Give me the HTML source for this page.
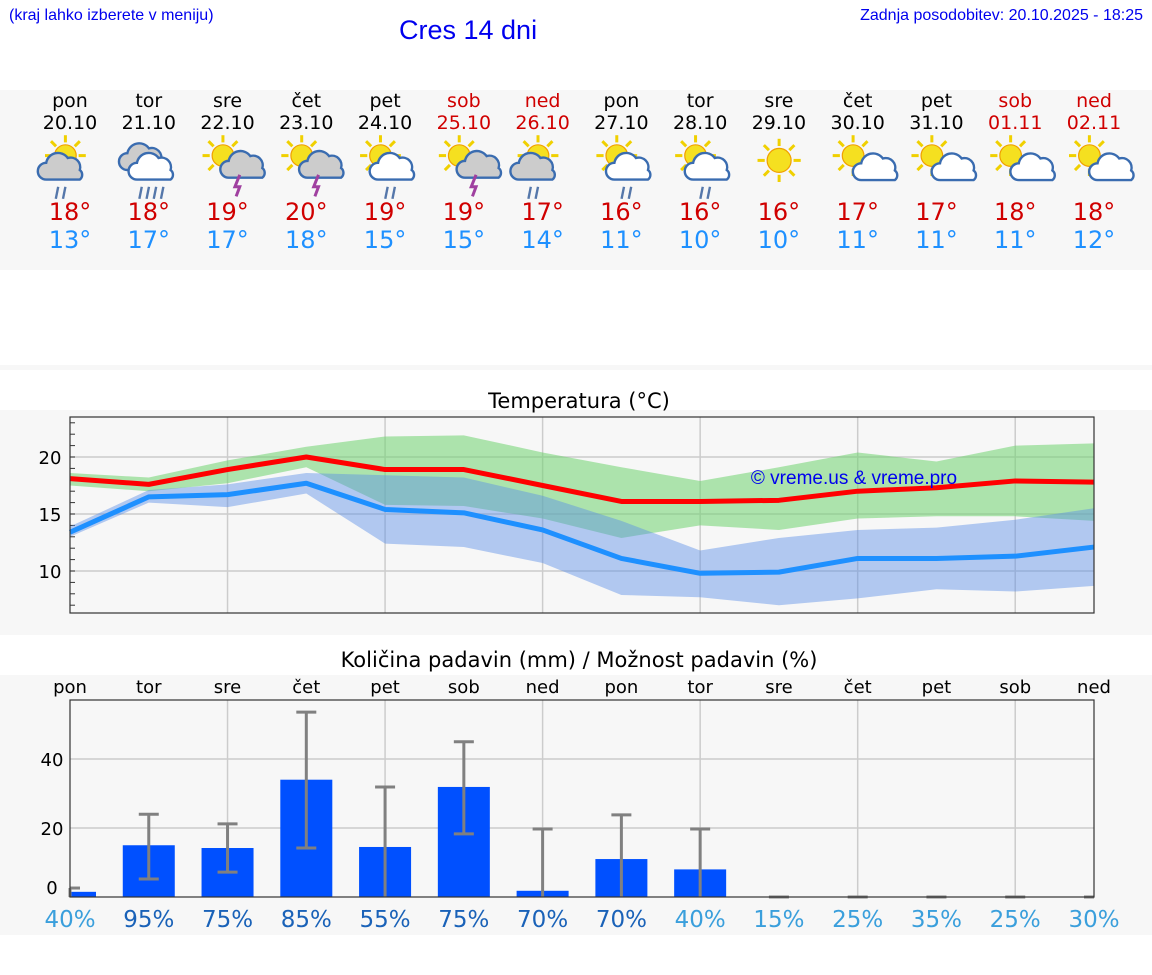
<!DOCTYPE html>
<html><head><meta charset="utf-8">
<style>
body{margin:0;width:1152px;height:975px;background:#fff;position:relative;overflow:hidden;font-family:"DejaVu Sans","Liberation Sans",sans-serif}
.hdr{position:absolute;font-family:"Liberation Sans",sans-serif;color:#0000ee}
.band{position:absolute;left:0;width:1152px;background:#f7f7f7}
</style></head><body>
<div class="hdr" style="left:9px;top:7px;font-size:16px">(kraj lahko izberete v meniju)</div>
<div class="hdr" style="left:399px;top:15px;font-size:27px">Cres 14 dni</div>
<div class="hdr" style="right:9px;top:7px;font-size:16px">Zadnja posodobitev: 20.10.2025 - 18:25</div>
<div class="band" style="top:90px;height:180px"></div>
<div class="band" style="top:365px;height:5px"></div>
<div class="band" style="top:410px;height:225px"></div>
<div class="band" style="top:675px;height:260px"></div>
<svg id="s" width="1152" height="975" style="position:absolute;left:0;top:0"></svg>
<script>
const days=["pon","tor","sre","čet","pet","sob","ned","pon","tor","sre","čet","pet","sob","ned"];
const dates=["20.10","21.10","22.10","23.10","24.10","25.10","26.10","27.10","28.10","29.10","30.10","31.10","01.11","02.11"];
const icons=["scr","cr","st","st","swr","st","scr","swr","swr","s","sc","sc","sc","sc"];
const maxT=[18,18,19,20,19,19,17,16,16,16,17,17,18,18];
const minT=[13,17,17,18,15,15,14,11,10,10,11,11,11,12];
const redLine=[18.1,17.6,18.9,20.0,18.9,18.9,17.5,16.1,16.1,16.2,17.0,17.3,17.9,17.8];
const blueLine=[13.4,16.5,16.7,17.7,15.4,15.1,13.6,11.1,9.8,9.9,11.1,11.1,11.3,12.1];
const greenTop=[18.6,18.2,19.7,20.9,21.8,21.9,20.4,19.1,17.9,19.1,20.4,19.6,21.0,21.2];
const greenBot=[17.5,17.0,17.7,19.1,15.8,15.7,14.6,12.9,14.0,13.6,14.6,14.8,14.8,14.4];
const blueTop=[13.9,17.1,17.6,18.6,18.4,18.2,16.6,14.4,11.8,12.9,13.6,13.8,14.5,15.5];
const blueBot=[13.0,16.0,15.6,16.8,12.4,12.1,10.7,7.9,7.7,7.0,7.6,8.4,8.2,8.7];
const tempTicks=[10,15,20];
const precip=[1.5,15,14.2,34,14.5,31.9,1.8,11,8,0,0,0,0,0];
const errHi=[2.6,24,21.2,53.6,31.9,45,19.7,23.8,19.7,0,0,0,0,0];
const errLo=[0,5.2,7.2,14.2,0,18.3,0,0,0,0,0,0,0,0];
const chance=[40,95,75,85,55,75,70,70,40,15,25,35,25,30];
const precipTicks=[0,20,40];

const S=document.getElementById('s');const NS="http://www.w3.org/2000/svg";
function el(t,a,p){const e=document.createElementNS(NS,t);for(const k in a)e.setAttribute(k,a[k]);(p||S).appendChild(e);return e;}
function txt(x,y,s,a){const e=el('text',Object.assign({x:x,y:y,'text-anchor':'middle'},a));e.textContent=s;return e;}
const X=i=>70+i*1024/13;
for(let i=0;i<14;i++){
 const we=(days[i]=="sob"||days[i]=="ned");const c=X(i);
 let t=txt(c,107,days[i],{'font-size':19,fill:we?'#d00000':'#000'});
 
 t=txt(c,129,dates[i],{'font-size':19,fill:we?'#d00000':'#000'});
 
 t=txt(c,220,maxT[i]+"°",{'font-size':24,fill:'#d00000'});
 
 t=txt(c,248,minT[i]+"°",{'font-size':24,fill:'#1e90ff'});
 
 const g=el('g',{transform:`translate(${c-31},134) scale(1.2)`});
 
 const k=icons[i];
 const sun=(cx,cy,r)=>{for(let a=0;a<8;a++){const an=a*Math.PI/4;el('line',{x1:cx+Math.cos(an)*(r+2),y1:cy+Math.sin(an)*(r+2),x2:cx+Math.cos(an)*(r+8),y2:cy+Math.sin(an)*(r+8),stroke:'#f0d000','stroke-width':2.5},g);}el('circle',{cx:cx,cy:cy,r:r,fill:'#f5e020',stroke:'#f0a000','stroke-width':1},g);};
 const cloud=(cx,cy,sc,f)=>{el('path',{d:`M${cx-14*sc},${cy+8*sc} a7,7 0 0 1 0,-14 a10,10 0 0 1 18,-4 a8,8 0 0 1 10,10 a5,5 0 0 1 0,8 z`,fill:f,stroke:'#3a6cb0','stroke-width':2},g);};
 if(k=="cr"){cloud(22,22,1,'#ccc');cloud(30,30,1,'#fff');for(let j=0;j<4;j++)el('line',{x1:20+j*6,y1:44,x2:18+j*6,y2:54,stroke:'#5577aa','stroke-width':2},g);}
 else{
  if(k=="s")sun(26,22,10);else sun(22,18,9);
  if(k=="scr"){cloud(20,30,1,'#ccc');}
  if(k=="swr"){cloud(34,30,1,'#fff');}
  if(k=="scr"||k=="swr"){const bx=k=="scr"?16:28;for(let j=0;j<2;j++)el('line',{x1:bx+j*6,y1:44,x2:bx-2+j*6,y2:54,stroke:'#5577aa','stroke-width':2},g);}
  if(k=="st"){cloud(38,30,0.8,'#ccc');el('path',{d:'M36,34 l-4,10 h4 l-3,8',stroke:'#a040a0','stroke-width':2.5,fill:'none'},g);}
  if(k=="sc"){cloud(40,32,0.8,'#fff');}
 }
}
const T0=417,T1=613,Ty=v=>457-(v-20)*11.4;
let t=txt(579,408,"Temperatura (°C)",{'font-size':21,fill:'#000'});

for(let i=2;i<13;i+=2){const l=el('line',{x1:X(i),x2:X(i),y1:T0,y2:T1,stroke:'#ccc','stroke-width':1.5});}
tempTicks.forEach(v=>{const l=el('line',{x1:70,x2:1094,y1:Ty(v),y2:Ty(v),stroke:'#ccc','stroke-width':1.5});
 const tl=txt(50,Ty(v)+7,String(v),{'font-size':18,fill:'#000'});});
for(let v=7;v<=23;v++){el('line',{x1:70,x2:75,y1:Ty(v),y2:Ty(v),stroke:'#333','stroke-width':1});}
const band=(top,bot,fill,op,name)=>{let d="M"+top.map((v,i)=>X(i)+","+Ty(v)).join(" L")+" L"+bot.map((v,i)=>X(i)+","+Ty(v)).reverse().join(" L")+"Z";const p=el('path',{d:d,fill:fill,'fill-opacity':op});};
band(greenTop,greenBot,'#6fd36f',0.55,'max-temp-range');
band(blueTop,blueBot,'#5b8fe6',0.45,'min-temp-range');
const line=(a,c,name)=>{const p=el('polyline',{points:a.map((v,i)=>X(i)+","+Ty(v)).join(" "),fill:'none',stroke:c,'stroke-width':5,'stroke-linejoin':'round'});};
line(blueLine,'#1e90ff','min-temp-line');line(redLine,'#ff0000','max-temp-line');
t=txt(854,484,"© vreme.us & vreme.pro",{'font-size':19,fill:'#0000ee','font-family':'Liberation Sans, sans-serif'});

let r=el('rect',{x:70,y:T0,width:1024,height:T1-T0,fill:'none',stroke:'#333','stroke-width':1.2});
const P0=700,P1=897,Py=v=>897-v*3.45;
t=txt(579,667,"Količina padavin (mm) / Možnost padavin (%)",{'font-size':21,fill:'#000'});

for(let i=0;i<14;i++){const l=txt(X(i),693,days[i],{'font-size':18,fill:'#000'});}
for(let i=2;i<13;i+=2){const l=el('line',{x1:X(i),x2:X(i),y1:P0,y2:P1,stroke:'#ccc','stroke-width':1.5});}
precipTicks.forEach(v=>{if(v>0){const l=el('line',{x1:70,x2:1094,y1:Py(v),y2:Py(v),stroke:'#ccc','stroke-width':1.5});}
 const tl=txt(52,Py(v)+(v==0?-3:7),String(v),{'font-size':18,fill:'#000'});});
for(let i=0;i<14;i++){
 const w=52,x0=Math.max(70,X(i)-w/2),x1=Math.min(1094,X(i)+w/2);
 if(precip[i]>0){const b=el('rect',{x:x0,y:Py(precip[i]),width:x1-x0,height:P1-Py(precip[i]),fill:'#0050ff'});}
 const eg=el('g',{stroke:'#808080','stroke-width':3});
 el('line',{x1:X(i),x2:X(i),y1:Py(errHi[i]),y2:Py(errLo[i])},eg);
 el('line',{x1:Math.max(70,X(i)-10),x2:Math.min(1094,X(i)+10),y1:Py(errHi[i]),y2:Py(errHi[i])},eg);
 if(errLo[i]>0)el('line',{x1:X(i)-10,x2:X(i)+10,y1:Py(errLo[i]),y2:Py(errLo[i])},eg);
 const ct=txt(X(i),927,chance[i]+"%",{'font-size':23,fill:chance[i]>=50?'#1a62b8':'#3a9fdc'});
}
r=el('rect',{x:70,y:P0,width:1024,height:P1-P0,fill:'none',stroke:'#333','stroke-width':1.2});
</script>
</body></html>
